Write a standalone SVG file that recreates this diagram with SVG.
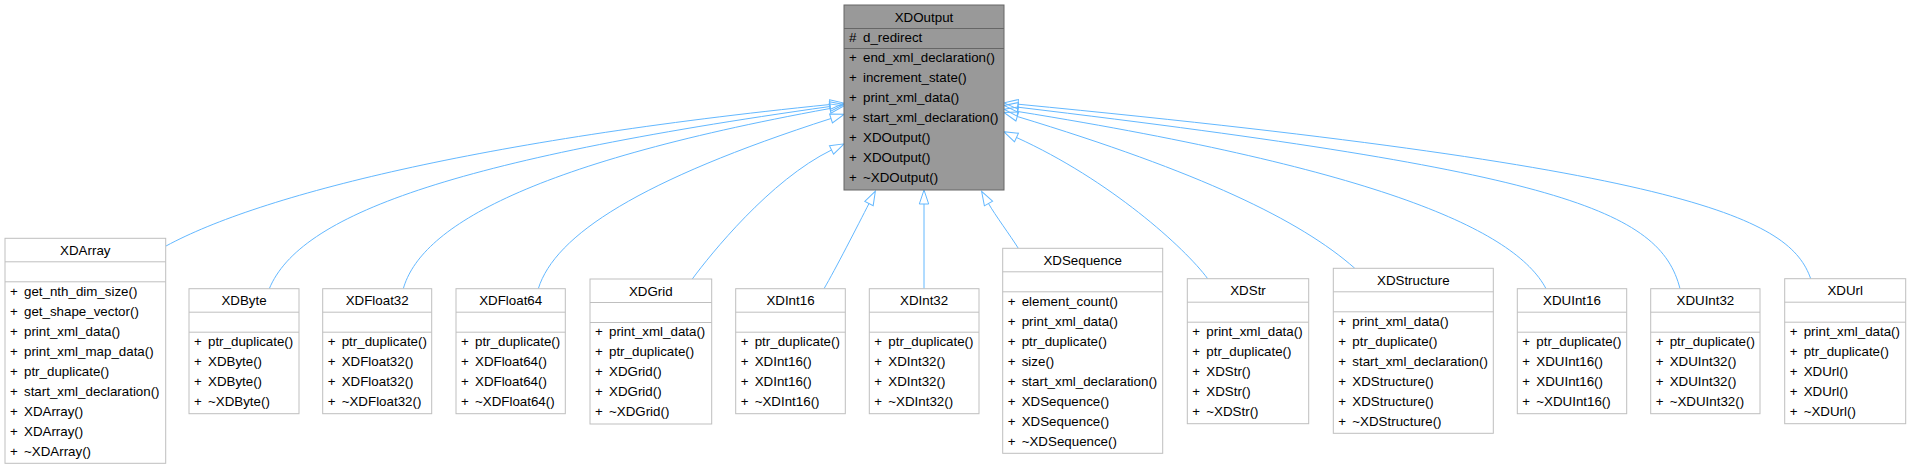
<svg xmlns="http://www.w3.org/2000/svg" width="1911" height="469" viewBox="0 0 1911 469">
<style>
text{font-family:"Liberation Sans",Arial,Helvetica,sans-serif;font-size:13.33px;fill:#000}
.t{text-anchor:middle}
.box{fill:#fff;stroke:#bfbfbf;stroke-width:1}
.sep{stroke:#bfbfbf;stroke-width:1}
.hbox{fill:#999999;stroke:#666666;stroke-width:1}
.hsep{stroke:#666666;stroke-width:1}
.e{fill:none;stroke:#63b8ff;stroke-width:1;marker-end:url(#arr)}
</style>
<defs>
<marker id="arr" markerUnits="userSpaceOnUse" markerWidth="16" markerHeight="12" refX="0" refY="6" orient="auto" overflow="visible">
<path d="M0,1.3 L14,6 L0,10.7 Z" fill="none" stroke="#63b8ff" stroke-width="1"/>
</marker>
</defs>
<rect width="1911" height="469" fill="#fff"/>
<g id="connectors">
<path class="e" d="M166,246 C260,195 480,140 830,104.5"/>
<path class="e" d="M269.3,288.7 C300,215 450,160 830,106.5"/>
<path class="e" d="M403.3,288.7 C420,230 520,165 830,108.5"/>
<path class="e" d="M538.3,288.7 C555,235 640,180 831,118.5"/>
<path class="e" d="M692.3,279 C710,255 770,180 831.5,150"/>
<path class="e" d="M824,288.7 C835,270 858,225 869,203.5"/>
<path class="e" d="M924,288.7 L924,204"/>
<path class="e" d="M1018.3,248.3 C1010,235 995,215 988.5,203.5"/>
<path class="e" d="M1207.7,278.7 C1185,248 1110,180 1016.5,137.5"/>
<path class="e" d="M1354.8,268.3 C1300,220 1200,172 1017.3,116.5"/>
<path class="e" d="M1546,288.7 C1515,230 1380,170 1017.8,111.5"/>
<path class="e" d="M1680,288.7 C1660,210 1560,172 1017.9,107.2"/>
<path class="e" d="M1810.7,278.7 C1790,220 1700,170 1018,104.2"/>
</g>
<g id="XDOutput" transform="translate(844,5)">
<rect class="hbox" x="0" y="0" width="160" height="185"/>
<line class="hsep" x1="0" y1="23.5" x2="160" y2="23.5"/>
<line class="hsep" x1="0" y1="43.5" x2="160" y2="43.5"/>
<text class="t" x="80" y="16.7">XDOutput</text>
<text x="5" y="36.7">#</text><text x="19" y="36.7">d_redirect</text>
<text x="5" y="57.3">+</text><text x="19" y="57.3">end_xml_declaration()</text>
<text x="5" y="77.3">+</text><text x="19" y="77.3">increment_state()</text>
<text x="5" y="97.3">+</text><text x="19" y="97.3">print_xml_data()</text>
<text x="5" y="117.3">+</text><text x="19" y="117.3">start_xml_declaration()</text>
<text x="5" y="137.3">+</text><text x="19" y="137.3">XDOutput()</text>
<text x="5" y="157.3">+</text><text x="19" y="157.3">XDOutput()</text>
<text x="5" y="177.3">+</text><text x="19" y="177.3">~XDOutput()</text>
</g>
<g id="XDArray" transform="translate(5,238.3)">
<rect class="box" x="0" y="0" width="160.7" height="225"/>
<line class="sep" x1="0" y1="23.5" x2="160.7" y2="23.5"/>
<line class="sep" x1="0" y1="43.5" x2="160.7" y2="43.5"/>
<text class="t" x="80.3" y="16.7">XDArray</text>
<text x="5" y="57.3">+</text><text x="19" y="57.3">get_nth_dim_size()</text>
<text x="5" y="77.3">+</text><text x="19" y="77.3">get_shape_vector()</text>
<text x="5" y="97.3">+</text><text x="19" y="97.3">print_xml_data()</text>
<text x="5" y="117.3">+</text><text x="19" y="117.3">print_xml_map_data()</text>
<text x="5" y="137.3">+</text><text x="19" y="137.3">ptr_duplicate()</text>
<text x="5" y="157.3">+</text><text x="19" y="157.3">start_xml_declaration()</text>
<text x="5" y="177.3">+</text><text x="19" y="177.3">XDArray()</text>
<text x="5" y="197.3">+</text><text x="19" y="197.3">XDArray()</text>
<text x="5" y="217.3">+</text><text x="19" y="217.3">~XDArray()</text>
</g>
<g id="XDByte" transform="translate(189,288.7)">
<rect class="box" x="0" y="0" width="110" height="125"/>
<line class="sep" x1="0" y1="23.5" x2="110" y2="23.5"/>
<line class="sep" x1="0" y1="43.5" x2="110" y2="43.5"/>
<text class="t" x="55" y="16.7">XDByte</text>
<text x="5" y="57.3">+</text><text x="19" y="57.3">ptr_duplicate()</text>
<text x="5" y="77.3">+</text><text x="19" y="77.3">XDByte()</text>
<text x="5" y="97.3">+</text><text x="19" y="97.3">XDByte()</text>
<text x="5" y="117.3">+</text><text x="19" y="117.3">~XDByte()</text>
</g>
<g id="XDFloat32" transform="translate(322.7,288.7)">
<rect class="box" x="0" y="0" width="109" height="125"/>
<line class="sep" x1="0" y1="23.5" x2="109" y2="23.5"/>
<line class="sep" x1="0" y1="43.5" x2="109" y2="43.5"/>
<text class="t" x="54.5" y="16.7">XDFloat32</text>
<text x="5" y="57.3">+</text><text x="19" y="57.3">ptr_duplicate()</text>
<text x="5" y="77.3">+</text><text x="19" y="77.3">XDFloat32()</text>
<text x="5" y="97.3">+</text><text x="19" y="97.3">XDFloat32()</text>
<text x="5" y="117.3">+</text><text x="19" y="117.3">~XDFloat32()</text>
</g>
<g id="XDFloat64" transform="translate(456,288.7)">
<rect class="box" x="0" y="0" width="109.3" height="125"/>
<line class="sep" x1="0" y1="23.5" x2="109.3" y2="23.5"/>
<line class="sep" x1="0" y1="43.5" x2="109.3" y2="43.5"/>
<text class="t" x="54.7" y="16.7">XDFloat64</text>
<text x="5" y="57.3">+</text><text x="19" y="57.3">ptr_duplicate()</text>
<text x="5" y="77.3">+</text><text x="19" y="77.3">XDFloat64()</text>
<text x="5" y="97.3">+</text><text x="19" y="97.3">XDFloat64()</text>
<text x="5" y="117.3">+</text><text x="19" y="117.3">~XDFloat64()</text>
</g>
<g id="XDGrid" transform="translate(590,279)">
<rect class="box" x="0" y="0" width="121.7" height="145"/>
<line class="sep" x1="0" y1="23.5" x2="121.7" y2="23.5"/>
<line class="sep" x1="0" y1="43.5" x2="121.7" y2="43.5"/>
<text class="t" x="60.8" y="16.7">XDGrid</text>
<text x="5" y="57.3">+</text><text x="19" y="57.3">print_xml_data()</text>
<text x="5" y="77.3">+</text><text x="19" y="77.3">ptr_duplicate()</text>
<text x="5" y="97.3">+</text><text x="19" y="97.3">XDGrid()</text>
<text x="5" y="117.3">+</text><text x="19" y="117.3">XDGrid()</text>
<text x="5" y="137.3">+</text><text x="19" y="137.3">~XDGrid()</text>
</g>
<g id="XDInt16" transform="translate(735.7,288.7)">
<rect class="box" x="0" y="0" width="109.6" height="125"/>
<line class="sep" x1="0" y1="23.5" x2="109.6" y2="23.5"/>
<line class="sep" x1="0" y1="43.5" x2="109.6" y2="43.5"/>
<text class="t" x="54.8" y="16.7">XDInt16</text>
<text x="5" y="57.3">+</text><text x="19" y="57.3">ptr_duplicate()</text>
<text x="5" y="77.3">+</text><text x="19" y="77.3">XDInt16()</text>
<text x="5" y="97.3">+</text><text x="19" y="97.3">XDInt16()</text>
<text x="5" y="117.3">+</text><text x="19" y="117.3">~XDInt16()</text>
</g>
<g id="XDInt32" transform="translate(869.3,288.7)">
<rect class="box" x="0" y="0" width="109.7" height="125"/>
<line class="sep" x1="0" y1="23.5" x2="109.7" y2="23.5"/>
<line class="sep" x1="0" y1="43.5" x2="109.7" y2="43.5"/>
<text class="t" x="54.8" y="16.7">XDInt32</text>
<text x="5" y="57.3">+</text><text x="19" y="57.3">ptr_duplicate()</text>
<text x="5" y="77.3">+</text><text x="19" y="77.3">XDInt32()</text>
<text x="5" y="97.3">+</text><text x="19" y="97.3">XDInt32()</text>
<text x="5" y="117.3">+</text><text x="19" y="117.3">~XDInt32()</text>
</g>
<g id="XDSequence" transform="translate(1002.7,248.3)">
<rect class="box" x="0" y="0" width="160" height="205"/>
<line class="sep" x1="0" y1="23.5" x2="160" y2="23.5"/>
<line class="sep" x1="0" y1="43.5" x2="160" y2="43.5"/>
<text class="t" x="80" y="16.7">XDSequence</text>
<text x="5" y="57.3">+</text><text x="19" y="57.3">element_count()</text>
<text x="5" y="77.3">+</text><text x="19" y="77.3">print_xml_data()</text>
<text x="5" y="97.3">+</text><text x="19" y="97.3">ptr_duplicate()</text>
<text x="5" y="117.3">+</text><text x="19" y="117.3">size()</text>
<text x="5" y="137.3">+</text><text x="19" y="137.3">start_xml_declaration()</text>
<text x="5" y="157.3">+</text><text x="19" y="157.3">XDSequence()</text>
<text x="5" y="177.3">+</text><text x="19" y="177.3">XDSequence()</text>
<text x="5" y="197.3">+</text><text x="19" y="197.3">~XDSequence()</text>
</g>
<g id="XDStr" transform="translate(1187.3,278.7)">
<rect class="box" x="0" y="0" width="121.4" height="145"/>
<line class="sep" x1="0" y1="23.5" x2="121.4" y2="23.5"/>
<line class="sep" x1="0" y1="43.5" x2="121.4" y2="43.5"/>
<text class="t" x="60.7" y="16.7">XDStr</text>
<text x="5" y="57.3">+</text><text x="19" y="57.3">print_xml_data()</text>
<text x="5" y="77.3">+</text><text x="19" y="77.3">ptr_duplicate()</text>
<text x="5" y="97.3">+</text><text x="19" y="97.3">XDStr()</text>
<text x="5" y="117.3">+</text><text x="19" y="117.3">XDStr()</text>
<text x="5" y="137.3">+</text><text x="19" y="137.3">~XDStr()</text>
</g>
<g id="XDStructure" transform="translate(1333.3,268.3)">
<rect class="box" x="0" y="0" width="160" height="165"/>
<line class="sep" x1="0" y1="23.5" x2="160" y2="23.5"/>
<line class="sep" x1="0" y1="43.5" x2="160" y2="43.5"/>
<text class="t" x="80" y="16.7">XDStructure</text>
<text x="5" y="57.3">+</text><text x="19" y="57.3">print_xml_data()</text>
<text x="5" y="77.3">+</text><text x="19" y="77.3">ptr_duplicate()</text>
<text x="5" y="97.3">+</text><text x="19" y="97.3">start_xml_declaration()</text>
<text x="5" y="117.3">+</text><text x="19" y="117.3">XDStructure()</text>
<text x="5" y="137.3">+</text><text x="19" y="137.3">XDStructure()</text>
<text x="5" y="157.3">+</text><text x="19" y="157.3">~XDStructure()</text>
</g>
<g id="XDUInt16" transform="translate(1517.3,288.7)">
<rect class="box" x="0" y="0" width="109.4" height="125"/>
<line class="sep" x1="0" y1="23.5" x2="109.4" y2="23.5"/>
<line class="sep" x1="0" y1="43.5" x2="109.4" y2="43.5"/>
<text class="t" x="54.7" y="16.7">XDUInt16</text>
<text x="5" y="57.3">+</text><text x="19" y="57.3">ptr_duplicate()</text>
<text x="5" y="77.3">+</text><text x="19" y="77.3">XDUInt16()</text>
<text x="5" y="97.3">+</text><text x="19" y="97.3">XDUInt16()</text>
<text x="5" y="117.3">+</text><text x="19" y="117.3">~XDUInt16()</text>
</g>
<g id="XDUInt32" transform="translate(1650.7,288.7)">
<rect class="box" x="0" y="0" width="109.3" height="125"/>
<line class="sep" x1="0" y1="23.5" x2="109.3" y2="23.5"/>
<line class="sep" x1="0" y1="43.5" x2="109.3" y2="43.5"/>
<text class="t" x="54.7" y="16.7">XDUInt32</text>
<text x="5" y="57.3">+</text><text x="19" y="57.3">ptr_duplicate()</text>
<text x="5" y="77.3">+</text><text x="19" y="77.3">XDUInt32()</text>
<text x="5" y="97.3">+</text><text x="19" y="97.3">XDUInt32()</text>
<text x="5" y="117.3">+</text><text x="19" y="117.3">~XDUInt32()</text>
</g>
<g id="XDUrl" transform="translate(1784.7,278.7)">
<rect class="box" x="0" y="0" width="121" height="145"/>
<line class="sep" x1="0" y1="23.5" x2="121" y2="23.5"/>
<line class="sep" x1="0" y1="43.5" x2="121" y2="43.5"/>
<text class="t" x="60.5" y="16.7">XDUrl</text>
<text x="5" y="57.3">+</text><text x="19" y="57.3">print_xml_data()</text>
<text x="5" y="77.3">+</text><text x="19" y="77.3">ptr_duplicate()</text>
<text x="5" y="97.3">+</text><text x="19" y="97.3">XDUrl()</text>
<text x="5" y="117.3">+</text><text x="19" y="117.3">XDUrl()</text>
<text x="5" y="137.3">+</text><text x="19" y="137.3">~XDUrl()</text>
</g>
</svg>
